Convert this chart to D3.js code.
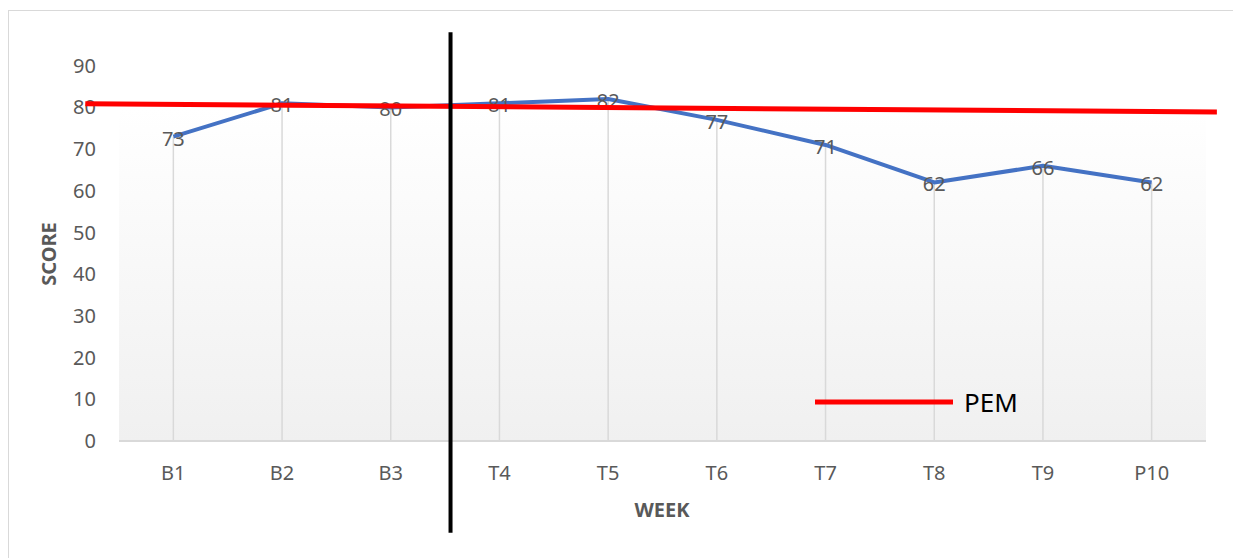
<!DOCTYPE html>
<html>
<head>
<meta charset="utf-8">
<script src="https://cdn.jsdelivr.net/npm/d3@7"></script>
<style>
    body { margin: 0; background: #fff; }
    text { font-family: "Noto Sans", "Open Sans", sans-serif; }
</style>
</head>
<body>
<svg width="1233" height="558"></svg>
<script>

// chart data
var weeks = ["B1", "B2", "B3", "T4", "T5", "T6", "T7", "T8", "T9", "P10"]
var scores = [73, 81, 80, 81, 82, 77, 71, 62, 66, 62]
var yTicks = [0, 10, 20, 30, 40, 50, 60, 70, 80, 90]
// PEM line: ends given as week index (B1 = 0) and score
var pemIndex = [-0.81, 9.6]
var pemScore = [80.9, 78.9]
// phase divider between baseline and treatment, week index + score span
var dividerIndex = 2.55
var dividerScore = [98, -22]

var svg = d3.select("svg"),
    width = +svg.attr("width"),
    height = +svg.attr("height");

var margin = {left: 119, right: 27, top: 24, bottom: 117}
var plotW = width - margin.left - margin.right,
    plotH = height - margin.top - margin.bottom;

var x = d3.scaleBand()
    .domain(weeks)
    .range([margin.left, margin.left + plotW])
    .padding(0);

// index scale for things that sit between categories
var xi = d3.scaleLinear()
    .domain([0, 1])
    .range([x(weeks[0]) + x.bandwidth() / 2, x(weeks[1]) + x.bandwidth() / 2]);

var y = d3.scaleLinear()
    .domain([0, 100])
    .range([margin.top + plotH, margin.top]);

function cx(d) { return x(d) + x.bandwidth() / 2 }

// outer chart frame
svg.append("rect")
    .attr("x", 8.5).attr("y", 10.5)
    .attr("width", width).attr("height", height)
    .attr("fill", "none")
    .attr("stroke", "#d9d9d9");

var defs = svg.append("defs")
var grad = defs.append("linearGradient")
    .attr("id", "plotFill")
    .attr("x1", 0).attr("y1", 0).attr("x2", 0).attr("y2", 1);
grad.append("stop").attr("offset", "0%").attr("stop-color", "#ffffff");
grad.append("stop").attr("offset", "20%").attr("stop-color", "#ffffff");
grad.append("stop").attr("offset", "100%").attr("stop-color", "#f0f0f0");

svg.append("rect")
    .attr("x", margin.left).attr("y", y(100))
    .attr("width", plotW).attr("height", y(0) - y(100))
    .attr("fill", "url(#plotFill)");

// axis baseline
svg.append("line")
    .attr("x1", margin.left).attr("x2", margin.left + plotW)
    .attr("y1", y(0)).attr("y2", y(0))
    .attr("stroke", "#d9d9d9")
    .attr("stroke-width", 2);

// y tick labels
svg.append("g")
    .selectAll("text")
    .data(yTicks)
    .enter().append("text")
    .attr("x", 96)
    .attr("y", function(d) { return y(d) + 7 })
    .attr("text-anchor", "end")
    .attr("font-size", 20)
    .attr("fill", "#595959")
    .text(function(d) { return d });

// x tick labels
svg.append("g")
    .selectAll("text")
    .data(weeks)
    .enter().append("text")
    .attr("x", function(d) { return cx(d) })
    .attr("y", 480)
    .attr("text-anchor", "middle")
    .attr("font-size", 20)
    .attr("fill", "#595959")
    .text(function(d) { return d });

// axis titles
svg.append("text")
    .attr("x", x.range()[0] + plotW / 2 - 0.5)
    .attr("y", 517)
    .attr("text-anchor", "middle")
    .attr("font-size", 20)
    .attr("font-weight", "bold")
    .attr("fill", "#595959")
    .text("WEEK");

svg.append("text")
    .attr("transform", "translate(56," + 254 + ") rotate(-90)")
    .attr("text-anchor", "middle")
    .attr("font-size", 20)
    .attr("font-weight", "bold")
    .attr("fill", "#595959")
    .text("SCORE");

var points = weeks.map(function(w, i) { return {week: w, score: scores[i]} })

// drop lines
svg.append("g")
    .selectAll("line")
    .data(points)
    .enter().append("line")
    .attr("x1", function(d) { return cx(d.week) })
    .attr("x2", function(d) { return cx(d.week) })
    .attr("y1", function(d) { return y(d.score) })
    .attr("y2", y(0))
    .attr("stroke", "#d9d9d9")
    .attr("stroke-width", 1.5);

var line = d3.line()
    .x(function(d) { return cx(d.week) })
    .y(function(d) { return y(d.score) });

svg.append("path")
    .datum(points)
    .attr("d", line)
    .attr("fill", "none")
    .attr("stroke", "#4472c4")
    .attr("stroke-width", 4)
    .attr("stroke-linejoin", "round");

// data labels
svg.append("g")
    .selectAll("text")
    .data(points)
    .enter().append("text")
    .attr("x", function(d) { return cx(d.week) })
    .attr("y", function(d) { return y(d.score) + 9 })
    .attr("text-anchor", "middle")
    .attr("font-size", 20)
    .attr("fill", "#595959")
    .text(function(d) { return d.score });

// PEM line
var pem = pemIndex.map(function(v, i) { return [xi(v), y(pemScore[i])] })
svg.append("path")
    .attr("d", d3.line()(pem))
    .attr("fill", "none")
    .attr("stroke", "#ff0000")
    .attr("stroke-width", 5);

// phase divider
svg.append("line")
    .attr("x1", xi(dividerIndex)).attr("x2", xi(dividerIndex))
    .attr("y1", y(dividerScore[0])).attr("y2", y(dividerScore[1]))
    .attr("stroke", "#000")
    .attr("stroke-width", 4);

// legend
var legend = svg.append("g")
    .attr("transform", "translate(815,402)");
legend.append("line")
    .attr("x1", 0).attr("x2", 138)
    .attr("y1", 0).attr("y2", 0)
    .attr("stroke", "#ff0000")
    .attr("stroke-width", 5);
legend.append("text")
    .attr("x", 149)
    .attr("y", 10)
    .attr("font-size", 26)
    .attr("fill", "#000")
    .text("PEM");

</script>
</body>
</html>
